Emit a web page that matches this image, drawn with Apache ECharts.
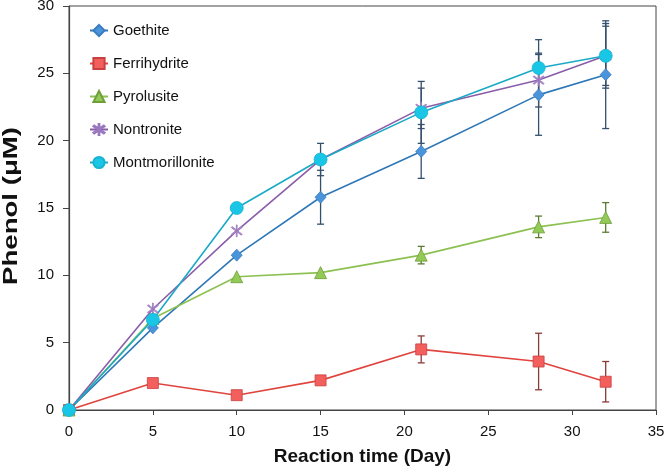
<!DOCTYPE html>
<html><head><meta charset="utf-8">
<script src="https://cdn.jsdelivr.net/npm/echarts@6/dist/echarts.min.js"></script>
<style>html,body{margin:0;padding:0;background:#fff}#c{width:666px;height:466px}</style>
</head><body><div id="c"></div>
<script>
const days = [0, 5, 10, 15, 21, 28, 32];
const goethite = [0, 6.1, 11.5, 15.8, 19.2, 23.4, 24.9];
const ferrihydrite = [0, 2.0, 1.1, 2.2, 4.5, 3.6, 2.1];
const pyrolusite = [0, 6.8, 9.9, 10.2, 11.5, 13.6, 14.3];
const nontronite = [0, 7.5, 13.3, 18.6, 22.4, 24.5, 26.3];
const montmorillonite = [0, 6.7, 15.0, 18.6, 22.1, 25.4, 26.3];
const goethiteErr = [null, null, null, 2.0, 2.0, 3.0, 4.0];
const ferrihydriteErr = [null, null, null, null, 1.0, 2.1, 1.5];
const pyrolusiteErr = [null, null, null, null, 0.65, 0.8, 1.1];
const nontroniteErr = [null, null, null, null, 1.5, 2.0, 2.2];
const montmorilloniteErr = [null, null, null, 1.2, 2.3, 2.1, 2.4];
const xTicks = { min: 0, max: 35, interval: 5 };
const yTicks = { min: 0, max: 30, interval: 5 };
const xTitle = 'Reaction time (Day)';
const yTitle = 'Phenol (μM)';

const FONT = 'Liberation Sans, Arial, sans-serif';
const star = 'path://M8.30,5.66 L7.02,7.20 L-8.30,-5.66 L-7.02,-7.20 Z M-7.02,7.20 L-8.30,5.66 L7.02,-7.20 L8.30,-5.66 Z M-0.6,-10 L0.6,-10 L0.6,10 L-0.6,10 Z';

function pts(vals){ return days.map((d,i)=>[d, vals[i]]); }
function errPts(vals, errs){
  const out = [];
  days.forEach((d,i)=>{ if (errs[i] != null) out.push([d, vals[i], errs[i]]); });
  return out;
}
function errSeries(name, vals, errs, color){
  return {
    type: 'custom', name: name + ' err', z: 1,
    data: errPts(vals, errs),
    encode: { x: 0, y: 1 },
    renderItem: function(params, api){
      const x = api.value(0), y = api.value(1), e = api.value(2);
      const top = api.coord([x, y + e]);
      const bot = api.coord([x, y - e]);
      const w = 3.5;
      const st = { stroke: color, lineWidth: 1.3 };
      return { type: 'group', children: [
        { type: 'line', shape: { x1: top[0], y1: top[1], x2: bot[0], y2: bot[1] }, style: st },
        { type: 'line', shape: { x1: top[0]-w, y1: top[1], x2: top[0]+w, y2: top[1] }, style: st },
        { type: 'line', shape: { x1: bot[0]-w, y1: bot[1], x2: bot[0]+w, y2: bot[1] }, style: st }
      ]};
    }
  };
}
function lineSeries(name, vals, lineColor, markColor, symbol, size, border){
  return {
    type: 'line', name: name, data: pts(vals), z: 3,
    symbol: symbol, symbolSize: size, showSymbol: true,
    lineStyle: { color: lineColor, width: 1.6 },
    itemStyle: { color: markColor, borderColor: border, borderWidth: 0.8, opacity: 1 },
    emphasis: { disabled: true }
  };
}

const chart = echarts.init(document.getElementById('c'), null, { renderer: 'canvas' });
chart.setOption({
  animation: false,
  backgroundColor: '#fff',
  grid: { left: 69, right: 10, top: 6, bottom: 56, show: true, borderColor: '#444', borderWidth: 1, containLabel: false, outerBoundsMode: 'none' },
  legend: {
    orient: 'vertical', left: 84, top: 18, itemGap: 18, itemWidth: 18, itemHeight: 14,
    textStyle: { fontFamily: FONT, fontSize: 15, color: '#111' },
    data: ['Goethite', 'Ferrihydrite', 'Pyrolusite', 'Nontronite', 'Montmorillonite']
  },
  graphic: [{
    type: 'text', x: 11, y: 206, rotation: Math.PI / 2, scaleX: 1.38,
    style: { text: yTitle, font: 'bold 20px ' + FONT, fill: '#111', align: 'center', verticalAlign: 'middle' }
  }],
  xAxis: {
    type: 'value', min: xTicks.min, max: xTicks.max, interval: xTicks.interval,
    name: xTitle, nameLocation: 'middle', nameGap: 37,
    nameTextStyle: { fontFamily: FONT, fontSize: 19, fontWeight: 'bold', color: '#111' },
    axisLine: { lineStyle: { color: '#444', width: 1.2 } },
    axisTick: { show: true, inside: false, length: 5, lineStyle: { color: '#444' } },
    axisLabel: { fontFamily: FONT, fontSize: 15, color: '#111', margin: 14 },
    splitLine: { show: false }
  },
  yAxis: {
    type: 'value', min: yTicks.min, max: yTicks.max, interval: yTicks.interval,
    axisLine: { lineStyle: { color: '#444', width: 1.2 } },
    axisTick: { show: true, inside: false, length: 6, lineStyle: { color: '#444' } },
    axisLabel: { fontFamily: FONT, fontSize: 15, color: '#111', margin: 15 },
    splitLine: { show: false }
  },
  series: [
    errSeries('Goethite', goethite, goethiteErr, '#33506e'),
    errSeries('Ferrihydrite', ferrihydrite, ferrihydriteErr, '#8a3a3a'),
    errSeries('Pyrolusite', pyrolusite, pyrolusiteErr, '#5d7a34'),
    errSeries('Nontronite', nontronite, nontroniteErr, '#3d4d6a'),
    errSeries('Montmorillonite', montmorillonite, montmorilloniteErr, '#33506e'),
    lineSeries('Goethite', goethite, '#2f78b7', '#4a94dc', 'diamond', [11, 12], '#3b7cc0'),
    lineSeries('Ferrihydrite', ferrihydrite, '#e0443e', '#f25f5c', 'rect', 11, '#c94040'),
    lineSeries('Pyrolusite', pyrolusite, '#8cc152', '#92c957', 'triangle', 12, '#6f9e3a'),
    lineSeries('Nontronite', nontronite, '#8a5da8', '#b08fcc', star, [11, 12], '#9a78bf'),
    lineSeries('Montmorillonite', montmorillonite, '#1aa9c6', '#19c6e6', 'circle', 13, '#17b3d0')
  ]
});
</script></body></html>
